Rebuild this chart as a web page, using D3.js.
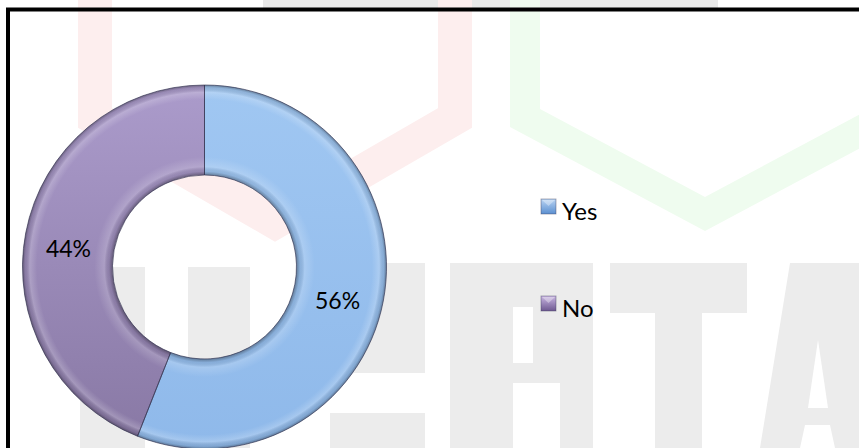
<!DOCTYPE html>
<html><head><meta charset="utf-8">
<script src="https://cdn.jsdelivr.net/npm/d3@7"></script>
<style>body{margin:0;background:#fff}svg{display:block}</style>
</head><body>
<svg id="chart" width="859" height="448"></svg>
<script>
// ---- data ----
const categories = ["Yes", "No"];
const values = [56, 44];
const pctLabels = ["56%", "44%"];

// ---- style ----
const W = 859, H = 448;
const cx = 204.5, cy = 267, rOuter = 182, rInner = 92;
const topColors = ["#a0c7f2", "#ab9bcb"];
const botColors = ["#8fb9ea", "#8878a4"];
const markerColors = [["#b9d4f3", "#5b8fd0"], ["#c9b6e2", "#6d5890"]];

const svg = d3.select("#chart");
const defs = svg.append("defs");

// ---- faint background watermark (decoration) ----
const wm = svg.append("g").attr("class", "watermark");
wm.append("rect").attr("x", 263).attr("y", 0).attr("width", 455).attr("height", 8).attr("fill", "#e9e9e9");
const hexLine = d3.line();
wm.append("path")
  .attr("d", hexLine([[95, -10], [95, 118], [275, 222], [455, 118], [455, -10]]))
  .attr("fill", "none").attr("stroke", "#fdeeee").attr("stroke-width", 34).attr("stroke-linejoin", "miter");
wm.append("path")
  .attr("d", hexLine([[525, -10], [525, 118], [705, 214], [885, 118], [885, -10]]))
  .attr("fill", "none").attr("stroke", "#effcef").attr("stroke-width", 30).attr("stroke-linejoin", "miter");
const grey = "#ececec";
const blocks = [
  [80, 267, 65, 181], [188, 267, 62, 181],
  [330, 263, 95, 110], [330, 413, 95, 40],
  [450, 263, 63, 185], [513, 263, 80, 44], [533, 307, 60, 76], [513, 363, 47, 20], [560, 383, 33, 65],
  [610, 263, 137, 50], [655, 313, 47, 135]
];
blocks.forEach(b => wm.append("rect").attr("x", b[0]).attr("y", b[1]).attr("width", b[2]).attr("height", b[3]).attr("fill", grey));
wm.append("path")
  .attr("d", hexLine([[760, 448], [790, 263], [860, 263], [860, 448], [835, 448], [830, 425], [805, 425], [800, 448]]) + "Z")
  .attr("fill", grey);
wm.append("path").attr("d", hexLine([[808, 408], [818, 340], [828, 408]]) + "Z").attr("fill", "#fff");

// ---- gradients ----
categories.forEach((c, i) => {
  const g = defs.append("linearGradient").attr("id", "slice" + i)
    .attr("gradientUnits", "userSpaceOnUse")
    .attr("x1", 0).attr("y1", -rOuter).attr("x2", 0).attr("y2", rOuter);
  g.append("stop").attr("offset", 0).attr("stop-color", topColors[i]);
  g.append("stop").attr("offset", 1).attr("stop-color", botColors[i]);
  const m = defs.append("linearGradient").attr("id", "mk" + i)
    .attr("x1", 0).attr("y1", 0).attr("x2", 0).attr("y2", 1);
  m.append("stop").attr("offset", 0).attr("stop-color", markerColors[i][0]);
  m.append("stop").attr("offset", 1).attr("stop-color", markerColors[i][1]);
});
const bevel = defs.append("radialGradient").attr("id", "bevel")
  .attr("gradientUnits", "userSpaceOnUse").attr("cx", 0).attr("cy", 0).attr("r", rOuter);
const ir = rInner / rOuter;
[[ir, "#000", 0.35], [ir + 0.02, "#000", 0.08], [ir + 0.045, "#fff", 0.18], [ir + 0.1, "#fff", 0],
 [0.92, "#fff", 0], [0.96, "#fff", 0.2], [0.985, "#000", 0.1], [1, "#000", 0.35]]
  .forEach(s => bevel.append("stop").attr("offset", s[0]).attr("stop-color", s[1]).attr("stop-opacity", s[2]));

// ---- border ----
svg.append("rect").attr("x", 8).attr("y", 9.5).attr("width", 900).attr("height", 500)
  .attr("fill", "none").attr("stroke", "#000").attr("stroke-width", 4);

// ---- donut ----
const pie = d3.pie().sort(null).value(d => d)(values);
const arc = d3.arc().innerRadius(rInner).outerRadius(rOuter);
const g = svg.append("g").attr("transform", `translate(${cx},${cy})`);
g.selectAll("path.slice").data(pie).join("path").attr("class", "slice")
  .attr("d", arc).attr("fill", (d, i) => `url(#slice${i})`);
g.selectAll("path.bev").data(pie).join("path").attr("class", "bev")
  .attr("d", arc).attr("fill", "url(#bevel)")
  .attr("stroke", "rgba(50,50,80,0.65)").attr("stroke-width", 1);

const fontFam = "Lato, 'Open Sans', sans-serif";
g.selectAll("text.lbl").data(pie).join("text").attr("class", "lbl")
  .attr("x", d => arc.centroid(d)[0] - 1.5)
  .attr("y", d => arc.centroid(d)[1] + 16)
  .attr("text-anchor", "middle")
  .attr("font-family", fontFam).attr("font-size", 23).attr("fill", "#000")
  .text((d, i) => pctLabels[i]);

// ---- legend ----
const legY = d3.scalePoint().domain(categories).range([199, 296]);
const leg = svg.append("g").selectAll("g").data(categories).join("g")
  .attr("transform", d => `translate(541,${legY(d)})`);
leg.append("rect").attr("width", 15).attr("height", 15)
  .attr("fill", (d, i) => `url(#mk${i})`).attr("stroke", "rgba(60,60,90,0.5)").attr("stroke-width", 0.8);
leg.append("path").attr("d", d3.line()([[1, 1], [7.5, 7], [14, 1]]))
  .attr("fill", "rgba(255,255,255,0.35)");
leg.append("text").attr("x", 21).attr("y", 21)
  .attr("font-family", fontFam).attr("font-size", 24).attr("fill", "#000")
  .text(d => d);
</script>
</body></html>
